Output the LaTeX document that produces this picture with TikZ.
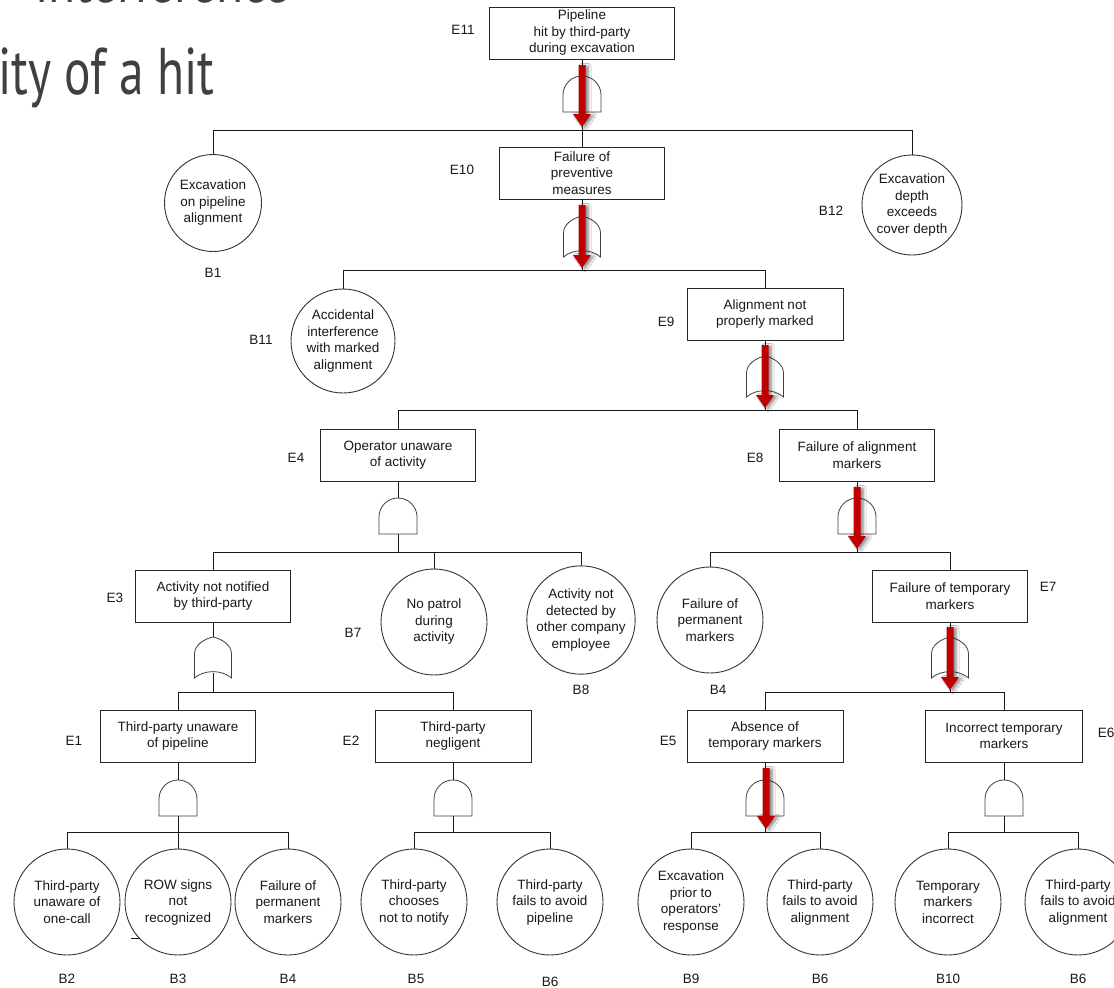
\documentclass[tikz,border=0pt]{standalone}
\usepackage{fontspec}
\setmainfont{Liberation Sans}
\newfontfamily\headfont{PT Sans}
\usetikzlibrary{shadows.blur}

\definecolor{hitred}{RGB}{192,0,0}
\definecolor{inkgray}{RGB}{64,64,64}
\newcommand\lblsize{\fontsize{13.5}{16.5}\selectfont}

% red arrow through a gate: x, top y, tip y
\newcommand\hitarrow[3]{%
  \fill[hitarrowfill] (#1-3.5,#2) -- (#1+3.5,#2) -- (#1+3.5,#3-13) -- (#1+9,#3-13)
    -- (#1,#3) -- (#1-9,#3-13) -- (#1-3.5,#3-13) -- cycle;}

\tikzset{
  event/.style={draw=black!85, line width=0.9pt, fill=white, minimum width=155pt,
    minimum height=52pt, inner sep=2pt, align=center, font=\lblsize, text=black!90},
  basic/.style={draw=black!80, line width=0.9pt, fill=white, circle, minimum size=#1,
    inner sep=0pt, align=center, font=\lblsize, text=black!90},
  basic/.default=106pt,
  tag/.style={font=\lblsize, text=black!90, inner sep=0pt},
  conn/.style={draw=black!90, line width=1pt},
  gateline/.style={draw=black!75, line width=0.8pt, fill=white},
  heading/.style={inner sep=0pt, text=inkgray, xscale=0.75,
    font=\headfont\fontsize{66}{66}\selectfont},
  hitarrowfill/.style={fill=hitred, blur shadow={shadow xshift=3pt, shadow yshift=-1pt,
    shadow blur steps=6, shadow blur radius=2.5pt, shadow opacity=45}},
  andgate/.pic={
    \coordinate (-top) at (0,0);
    \coordinate (-bot) at (0,36);
    \draw[gateline] (-19,36) -- (-19,19) .. controls (-19,8.5) and (-10.5,0) .. (0,0)
      .. controls (10.5,0) and (19,8.5) .. (19,19) -- (19,36) -- cycle;
  },
  orgate/.pic={
    \coordinate (-top) at (0,0);
    \coordinate (-bot) at (0,36);
    \draw[gateline] (-18.5,41) -- (-18.5,17) .. controls (-18.5,8) and (-9,2) .. (0,0)
      .. controls (9,2) and (18.5,8) .. (18.5,17) -- (18.5,41)
      .. controls (9,32.5) and (-9,32.5) .. cycle;
  }
}

\begin{document}
\begin{tikzpicture}[x=1pt,y=-1pt]
\useasboundingbox (0,0) rectangle (1114,988);
\fill[white] (0,0) rectangle (1114,988);

% slide heading, cut by the page edge
\node[heading, anchor=base east] (head1) at (290,2) {interference};
\node[heading, anchor=base west] (head2) at (-2,94) {ity of a hit};

% ---- events ----
\node[event, minimum width=185pt] (e11) at (582,33) {Pipeline\\hit by third-party\\during excavation};
\node[event, minimum width=165pt] (e10) at (582,173) {Failure of\\preventive\\measures};
\node[event, minimum width=156pt] (e9) at (765,314) {Alignment not\\properly marked};
\node[event] (e4) at (398,455) {Operator unaware\\of activity};
\node[event] (e8) at (857,455) {Failure of alignment\\markers};
\node[event] (e3) at (213,596) {Activity not notified\\by third-party};
\node[event] (e7) at (950,596) {Failure of temporary\\markers};
\node[event] (e1) at (178,736) {Third-party unaware\\of pipeline};
\node[event, minimum width=156pt] (e2) at (453,736) {Third-party\\negligent};
\node[event, minimum width=156pt] (e5) at (765,736) {Absence of\\temporary markers};
\node[event, minimum width=157pt] (e6) at (1004,736) {Incorrect temporary\\markers};

% ---- basic events ----
\node[basic=97pt] (b1) at (213,203) {Excavation\\on pipeline\\alignment};
\node[basic=100pt] (b12) at (912,205) {Excavation\\depth\\exceeds\\cover depth};
\node[basic=104pt] (b11) at (343,341) {Accidental\\interference\\with marked\\alignment};
\node[basic] (b7) at (434,622) {No patrol\\during\\activity};
\node[basic] (b8) at (581,620) {Activity not\\detected by\\other company\\employee};
\node[basic] (b4a) at (710,620) {Failure of\\permanent\\markers};
\node[basic] (b2) at (67,902) {Third-party\\unaware of\\one-call};
\node[basic] (b3) at (178,902) {ROW signs\\not\\recognized};
\node[basic] (b4b) at (288,902) {Failure of\\permanent\\markers};
\node[basic] (b5) at (414,902) {Third-party\\chooses\\not to notify};
\node[basic] (b6a) at (550,902) {Third-party\\fails to avoid\\pipeline};
\node[basic] (b9) at (691,902) {Excavation\\prior to\\operators'\\response};
\node[basic] (b6b) at (820,902) {Third-party\\fails to avoid\\alignment};
\node[basic] (b10) at (948,902) {Temporary\\markers\\incorrect};
\node[basic] (b6c) at (1078,902) {Third-party\\fails to avoid\\alignment};

% ---- identifiers ----
\node[tag] (t-e11) at (463,30) {E11};
\node[tag] (t-e10) at (462,170) {E10};
\node[tag] (t-b1) at (213,273) {B1};
\node[tag] (t-b12) at (831,211) {B12};
\node[tag] (t-b11) at (261,340) {B11};
\node[tag] (t-e9) at (666,322) {E9};
\node[tag] (t-e4) at (296,458) {E4};
\node[tag] (t-e8) at (755,458) {E8};
\node[tag] (t-e3) at (115,598) {E3};
\node[tag] (t-b7) at (353,633) {B7};
\node[tag] (t-b8) at (581,690) {B8};
\node[tag] (t-b4a) at (718,690) {B4};
\node[tag] (t-e7) at (1048,587) {E7};
\node[tag] (t-e1) at (74,741) {E1};
\node[tag] (t-e2) at (351,741) {E2};
\node[tag] (t-e5) at (668,741) {E5};
\node[tag] (t-e6) at (1106,733) {E6};
\node[tag] (t-b2) at (67,979) {B2};
\node[tag] (t-b3) at (178,979) {B3};
\node[tag] (t-b4b) at (288,979) {B4};
\node[tag] (t-b5) at (416,979) {B5};
\node[tag] (t-b6a) at (550,982) {B6};
\node[tag] (t-b9) at (691,979) {B9};
\node[tag] (t-b6b) at (820,979) {B6};
\node[tag] (t-b10) at (948,979) {B10};
\node[tag] (t-b6c) at (1078,979) {B6};

% ---- gates ----
\pic (g11) at (582,76) {andgate};
\pic (g10) at (582,216) {orgate};
\pic (g9) at (765,356) {orgate};
\pic (g4) at (398,498) {andgate};
\pic (g8) at (857,498) {andgate};
\pic (g3) at (213,637) {orgate};
\pic (g7) at (950,637) {orgate};
\pic (g1) at (178,780) {andgate};
\pic (g2) at (453,780) {andgate};
\pic (g5) at (765,780) {andgate};
\pic (g6) at (1004,780) {andgate};

% junctions on the branching bars
\coordinate (j11) at (582,130);
\coordinate (j10) at (582,270);
\coordinate (j9) at (765,410);
\coordinate (j4) at (398,552);
\coordinate (j8) at (857,552);
\coordinate (j3) at (213,692);
\coordinate (j7) at (950,692);
\coordinate (j1) at (178,832);
\coordinate (j2) at (453,832);
\coordinate (j5) at (765,832);
\coordinate (j6) at (1004,832);

% ---- connectors ----
\foreach \e/\g in {e11/g11,e10/g10,e9/g9,e4/g4,e8/g8,e3/g3,e7/g7,e1/g1,e2/g2,e5/g5,e6/g6}
  \draw[conn] (\e.south) -- (\g-top);

\draw[conn] (g11-bot) -- (j11);
\draw[conn] (j11) -| (b1.north);
\draw[conn] (j11) -| (b12.north);
\draw[conn] (j11) -- (e10.north);

\draw[conn] (g10-bot) -- (j10);
\draw[conn] (j10) -| (b11.north);
\draw[conn] (j10) -| (e9.north);

\draw[conn] (g9-bot) -- (j9);
\draw[conn] (j9) -| (e4.north);
\draw[conn] (j9) -| (e8.north);

\draw[conn] (g4-bot) -- (j4);
\draw[conn] (j4) -| (e3.north);
\draw[conn] (j4) -| (b7.north);
\draw[conn] (j4) -| (b8.north);

\draw[conn] (g8-bot) -- (j8);
\draw[conn] (j8) -| (b4a.north);
\draw[conn] (j8) -| (e7.north);

\draw[conn] (g3-bot) -- (j3);
\draw[conn] (j3) -| (e1.north);
\draw[conn] (j3) -| (e2.north);

\draw[conn] (g7-bot) -- (j7);
\draw[conn] (j7) -| (e5.north);
\draw[conn] (j7) -| (e6.north);

\draw[conn] (g1-bot) -- (j1);
\draw[conn] (j1) -| (b2.north);
\draw[conn] (j1) -- (b3.north);
\draw[conn] (j1) -| (b4b.north);

\draw[conn] (g2-bot) -- (j2);
\draw[conn] (j2) -| (b5.north);
\draw[conn] (j2) -| (b6a.north);

\draw[conn] (g5-bot) -- (j5);
\draw[conn] (j5) -| (b9.north);
\draw[conn] (j5) -| (b6b.north);

\draw[conn] (g6-bot) -- (j6);
\draw[conn] (j6) -| (b10.north);
\draw[conn] (j6) -| (b6c.north);

% stray tick on the ROW-signs circle
\draw[conn, line width=0.8pt] (131,938) -- (140,938);

% ---- red propagation arrows ----
\hitarrow{582}{65}{127}
\hitarrow{582}{205}{268}
\hitarrow{765}{345}{408}
\hitarrow{857}{487}{549}
\hitarrow{950}{627}{690}
\hitarrow{766}{768}{829}
\end{tikzpicture}
\end{document}
